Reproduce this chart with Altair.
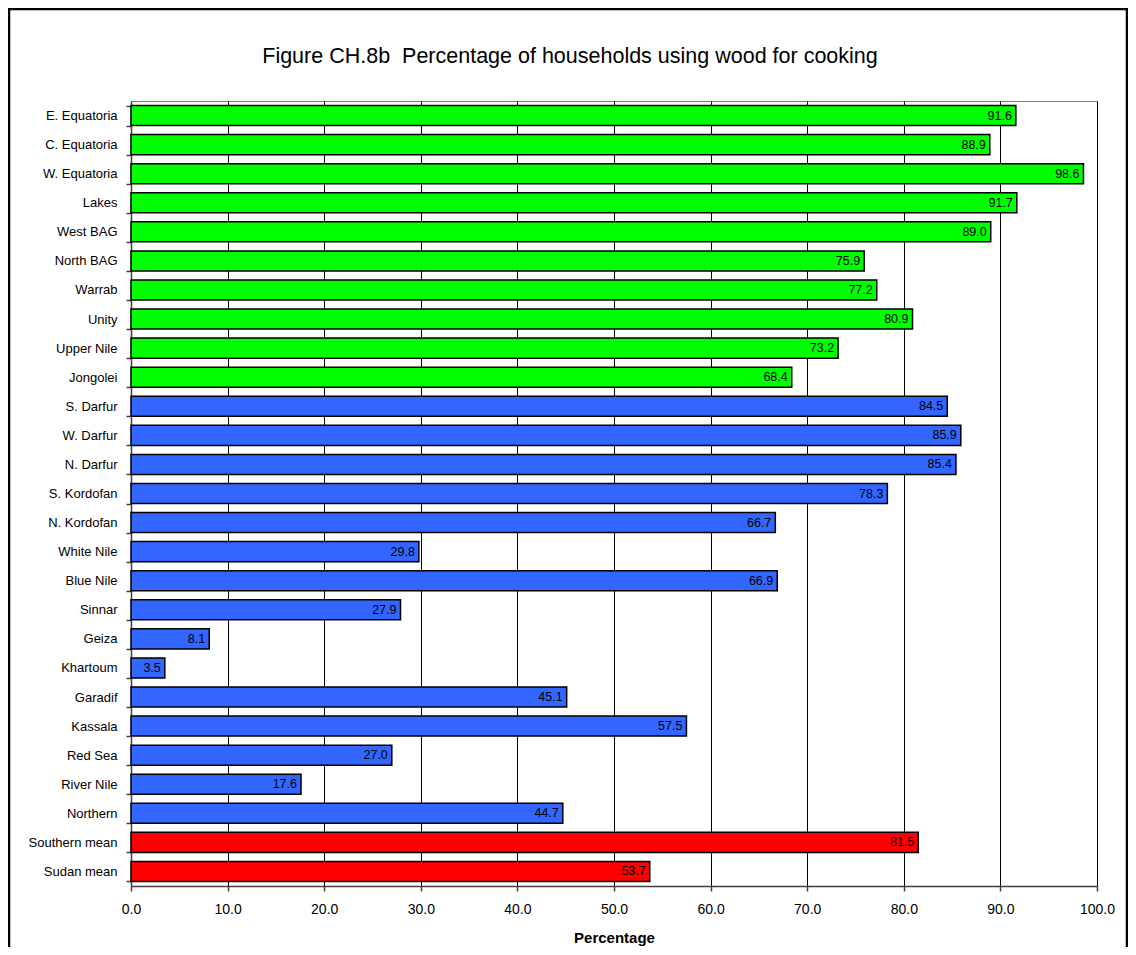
import altair as alt
import pandas as pd

FONT = "Liberation Sans"
TITLE = "Figure CH.8b\u00a0\u00a0Percentage of households using wood for cooking"

regions = [
    "E. Equatoria", "C. Equatoria", "W. Equatoria", "Lakes", "West BAG",
    "North BAG", "Warrab", "Unity", "Upper Nile", "Jongolei",
    "S. Darfur", "W. Darfur", "N. Darfur", "S. Kordofan", "N. Kordofan",
    "White Nile", "Blue Nile", "Sinnar", "Geiza", "Khartoum",
    "Garadif", "Kassala", "Red Sea", "River Nile", "Northern",
    "Southern mean", "Sudan mean",
]
values = [
    91.6, 88.9, 98.6, 91.7, 89.0,
    75.9, 77.2, 80.9, 73.2, 68.4,
    84.5, 85.9, 85.4, 78.3, 66.7,
    29.8, 66.9, 27.9, 8.1, 3.5,
    45.1, 57.5, 27.0, 17.6, 44.7,
    81.5, 53.7,
]
groups = ["South"] * 10 + ["North"] * 15 + ["Mean"] * 2
group_names = ["South", "North", "Mean"]
group_colors = ["#00FF00", "#3366FF", "#FF0000"]
x_ticks = [0, 10, 20, 30, 40, 50, 60, 70, 80, 90, 100]

df = pd.DataFrame({"region": regions, "value": values, "group": groups})
df["label"] = [f"{v:.1f}" for v in values]

W, H = 966, 785

y_enc = alt.Y(
    "region:N", sort=regions, title=None,
    scale=alt.Scale(paddingInner=0.31, paddingOuter=0.155),
    axis=alt.Axis(
        labelFont=FONT, labelFontSize=13, labelColor="black",
        tickBand="extent", tickSize=5, tickColor="#404040", tickWidth=1.5,
        domainColor="#404040", domainWidth=1.5, labelPadding=9, grid=False,
    ),
)
x_enc = alt.X(
    "value:Q", title="Percentage",
    scale=alt.Scale(domain=[0, 100], nice=False),
    axis=alt.Axis(
        values=x_ticks, format=".1f", grid=True, gridColor="black", gridWidth=1,
        labelFont=FONT, labelFontSize=14, labelColor="black", labelPadding=11,
        labelFlush=False, labelOverlap=False,
        tickSize=5, tickColor="#404040", tickWidth=1.5,
        domainColor="#404040", domainWidth=1.5,
        titleFont=FONT, titleFontSize=15, titleFontWeight="bold", titleColor="black",
        titlePadding=14,
    ),
)

bars = alt.Chart(df).mark_bar(stroke="black", strokeWidth=1.5).encode(
    x=x_enc, y=y_enc,
    color=alt.Color("group:N", scale=alt.Scale(domain=group_names, range=group_colors), legend=None),
)
labels = alt.Chart(df).mark_text(
    align="right", baseline="middle", dx=-4, font=FONT, fontSize=12.5, color="black"
).encode(
    x=alt.X("value:Q"), y=alt.Y("region:N", sort=regions), text="label:N"
)

one = pd.DataFrame({"t": [TITLE]})
title = alt.Chart(one).mark_text(
    font=FONT, fontSize=21.5, color="black", align="center", baseline="middle"
).encode(x=alt.value(439), y=alt.value(-44), text="t:N")

frame_left = alt.Chart(one).mark_rule(color="black", strokeWidth=2.5).encode(
    x=alt.value(-122), y=alt.value(-92), y2=alt.value(900))
frame_top = alt.Chart(one).mark_rule(color="black", strokeWidth=2.5).encode(
    x=alt.value(-123), x2=alt.value(997), y=alt.value(-92))
frame_right = alt.Chart(one).mark_rule(color="black", strokeWidth=2.5).encode(
    x=alt.value(996), y=alt.value(-92), y2=alt.value(900))

chart = alt.layer(bars, labels, title, frame_left, frame_top, frame_right).properties(
    width=W, height=H,
    autosize=alt.AutoSizeParams(type="none"),
    padding={"left": 123, "top": 93, "right": 31, "bottom": 61},
    background="white",
).configure_view(stroke="#808080", strokeWidth=1)

chart.save("out.html", embed_options={"renderer": "svg", "actions": False})
